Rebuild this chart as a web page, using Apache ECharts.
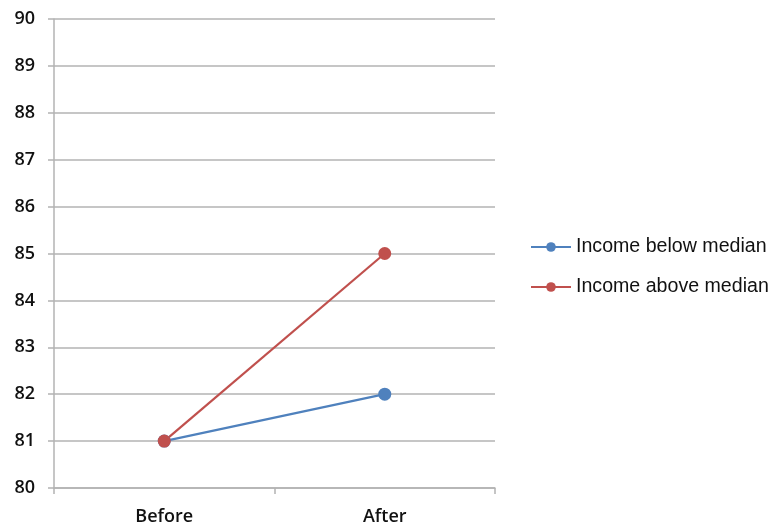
<!DOCTYPE html>
<html>
<head>
<meta charset="utf-8">
<style>
  html, body { margin: 0; padding: 0; background: #ffffff; }
  #chart { width: 774px; height: 526px; }
</style>
<script src="https://cdn.jsdelivr.net/npm/echarts@6/dist/echarts.min.js"></script>
</head>
<body>
<div id="chart"></div>
<script>
// Periods on the category axis
const periods = ['Before', 'After'];
// Series values
const belowMedian = [81, 82];
const aboveMedian = [81, 85];
// Value axis range
const yMin = 80;
const yMax = 90;
const yStep = 1;

const chart = echarts.init(document.getElementById('chart'));

const gridColor = '#b3b3b3';
const labelFont = { fontFamily: '"Open Sans", sans-serif', fontWeight: 600, fontSize: 18, color: '#111111' };

chart.setOption({
  animation: false,
  backgroundColor: '#ffffff',
  grid: { left: 54, right: 279, top: 19, bottom: 38, containLabel: false },
  legend: {
    orient: 'vertical',
    left: 525,
    top: 232,
    itemWidth: 40,
    itemHeight: 12,
    itemGap: 20,
    textStyle: { fontFamily: '"Liberation Sans", Arial, sans-serif', fontSize: 19.6, color: '#111111', padding: [0, 0, 0, 0] },
    data: ['Income below median', 'Income above median']
  },
  xAxis: {
    type: 'category',
    data: periods,
    boundaryGap: true,
    axisLine: { lineStyle: { color: gridColor, width: 1.5 } },
    axisTick: { show: true, length: 6, lineStyle: { color: gridColor, width: 1.5 } },
    axisLabel: Object.assign({ margin: 20 }, labelFont)
  },
  yAxis: {
    type: 'value',
    min: yMin,
    max: yMax,
    interval: yStep,
    axisLine: { show: true, lineStyle: { color: gridColor, width: 1.5 } },
    axisTick: { show: true, length: 6, lineStyle: { color: gridColor, width: 1.5 } },
    axisLabel: Object.assign({ margin: 19 }, labelFont),
    splitLine: { show: true, lineStyle: { color: gridColor, width: 1.5 } }
  },
  series: [
    {
      name: 'Income below median',
      type: 'line',
      data: belowMedian,
      symbol: 'circle',
      symbolSize: 13,
      itemStyle: { color: '#4f81bd' },
      lineStyle: { color: '#4f81bd', width: 2.2 }
    },
    {
      name: 'Income above median',
      type: 'line',
      data: aboveMedian,
      symbol: 'circle',
      symbolSize: 13,
      itemStyle: { color: '#c0504d' },
      lineStyle: { color: '#c0504d', width: 2.2 }
    }
  ]
});
</script>
</body>
</html>
